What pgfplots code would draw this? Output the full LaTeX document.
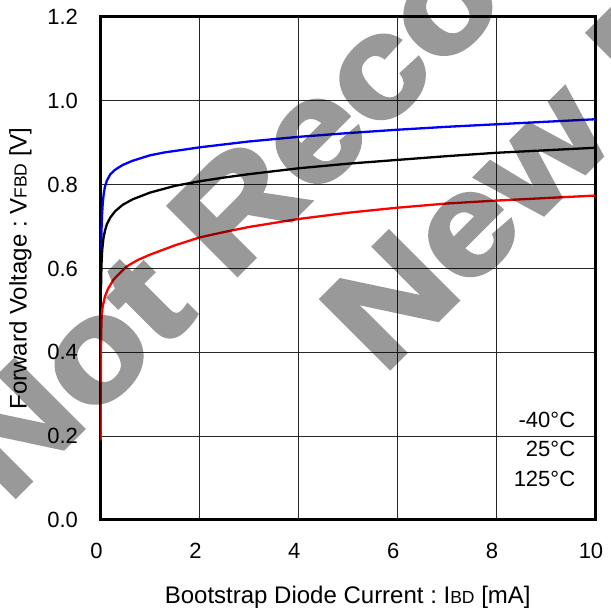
\documentclass[border=0pt]{standalone}
\usepackage{fontspec}
\setmainfont{Liberation Sans}
\newfontfamily\wmfont{Liberation Sans Bold}[FakeStretch=1.145,FakeBold=3]
\usepackage{pgfplots}
\pgfplotsset{compat=1.18}
\begin{document}
\frenchspacing
\begin{tikzpicture}
\path[use as bounding box] (0,0) rectangle (611pt,609pt);
\clip (0,0) rectangle (611pt,609pt);
\fill[white] (0,0) rectangle (611pt,609pt);
\begin{axis}[
  at={(100.5pt,89pt)}, anchor=south west,
  scale only axis, width=494.5pt, height=503pt,
  xmin=0, xmax=10, ymin=0, ymax=1.2,
  xtick={0,2,4,6,8,10},
  ytick={0,0.2,0.4,0.6,0.8,1.0,1.2},
  /pgf/number format/assume math mode=true,
  yticklabel style={/pgf/number format/fixed,/pgf/number format/fixed zerofill,/pgf/number format/precision=1, xshift=-19pt},
  xticklabel style={yshift=-20pt, xshift=-4pt},
  tick label style={font=\fontsize{22}{26}\selectfont},
  major tick length=0pt,
  grid=major,
  major grid style={black!85, line width=0.9pt},
  axis line style={line width=3pt},
  every axis x label/.style={at={(axis description cs:0.5,-0.167)}, anchor=base},
  every axis y label/.style={at={(axis description cs:-0.1496,0.5)}, rotate=90, anchor=base},
  label style={font=\fontsize{24}{28}\selectfont\frenchspacing},
  xlabel={Bootstrap Diode Current : I{\fontsize{17.5}{20}\selectfont BD} [mA]},
  ylabel={Forward Voltage : V{\fontsize{17.5}{20}\selectfont FBD} [V]},
  every axis plot/.append style={line width=2.3pt},
]
\addplot[blue] coordinates {(0.012,0.64) (0.02,0.69) (0.03,0.725) (0.045,0.755) (0.065,0.778) (0.09,0.795) (0.13,0.81) (0.2,0.825) (0.3,0.836) (0.45,0.847) (0.65,0.857) (1.0,0.870) (1.3,0.877) (1.6,0.882) (2,0.889) (2.5,0.896) (3,0.903) (4,0.914) (5,0.923) (6,0.931) (7,0.938) (8,0.944) (9,0.950) (10,0.956)};
\addplot[black] coordinates {(0.01,0.55) (0.02,0.61) (0.035,0.645) (0.06,0.672) (0.09,0.69) (0.13,0.706) (0.2,0.722) (0.3,0.737) (0.45,0.752) (0.65,0.765) (1.0,0.781) (1.5,0.797) (2,0.808) (2.5,0.817) (3,0.825) (4,0.839) (5,0.850) (6,0.859) (7,0.868) (8,0.876) (9,0.882) (10,0.888)};
\addplot[red] coordinates {(0.003,0.19) (0.006,0.3) (0.01,0.40) (0.015,0.45) (0.025,0.49) (0.045,0.51) (0.09,0.533) (0.15,0.551) (0.26,0.573) (0.4,0.59) (0.53,0.605) (0.75,0.62) (1.0,0.633) (1.5,0.655) (2,0.674) (2.5,0.687) (3,0.699) (4,0.718) (5,0.733) (6,0.745) (7,0.755) (8,0.762) (9,0.768) (10,0.774)};
\node[anchor=base east, font=\fontsize{22}{26}\selectfont] at (rel axis cs:0.967,0.1839) {-40°C};
\node[anchor=base east, font=\fontsize{22}{26}\selectfont] at (rel axis cs:0.967,0.1258) {25°C};
\node[anchor=base east, font=\fontsize{22}{26}\selectfont] at (rel axis cs:0.967,0.0656) {125°C};
\end{axis}
\begin{scope}[transparency group, opacity=0.4]
\node[rotate=45, anchor=base west, inner sep=0pt, text=black, font=\wmfont\fontsize{141}{141}\selectfont] at (8pt,105pt) {Not Recommended for};
\node[rotate=45, anchor=base west, inner sep=0pt, text=black, font=\wmfont\fontsize{141}{141}\selectfont] at (382.5pt,233.5pt) {New Designs};
\end{scope}
\end{tikzpicture}
\end{document}
